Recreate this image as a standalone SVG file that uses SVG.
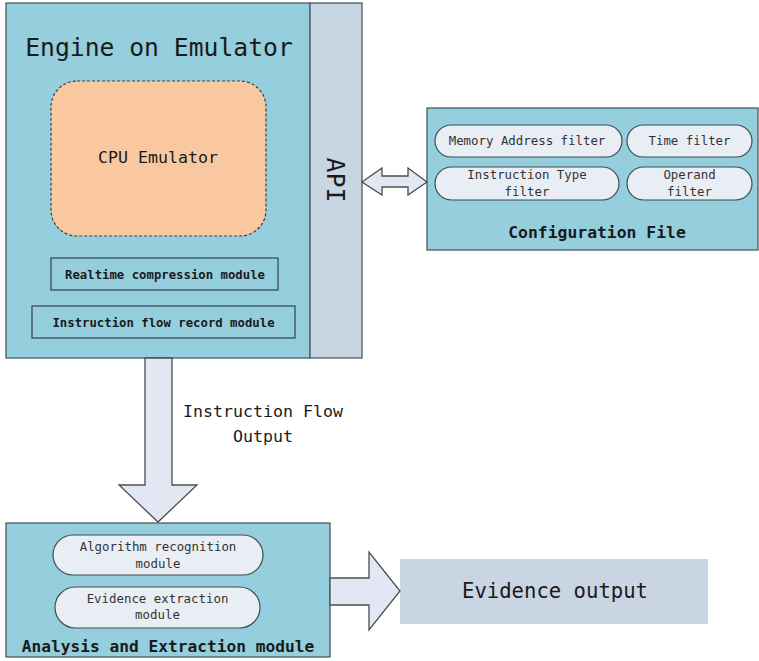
<svg xmlns="http://www.w3.org/2000/svg" width="759" height="661" viewBox="0 0 759 661">
<style>
text{font-family:"DejaVu Sans Mono","Liberation Mono",monospace;fill:#1a1a1a;text-anchor:middle}
.teal{fill:#95cedc;stroke:#4a5a62;stroke-width:1.3}
.mod{fill:none;stroke:#3d4c55;stroke-width:1.3}
.pill{fill:#e9edf4;stroke:#3d4c55;stroke-width:1.2}
.arrow{fill:#e2e8f3;stroke:#4d4d4d;stroke-width:1.3;stroke-linejoin:miter}
.small{font-size:12.4px;fill:#333}
.bold{font-weight:bold}
</style>
<rect width="759" height="661" fill="#ffffff"/>
<g id="engine">
<rect class="teal" x="6" y="3" width="304" height="355"/>
<text x="159" y="56" style="font-size:24.7px">Engine on Emulator</text>
</g>
<g id="api">
<rect x="310" y="3" width="52" height="355" fill="#c8d5e3" stroke="#4a5a62" stroke-width="1.3"/>
<text transform="translate(336,180) rotate(90)" y="9" style="font-size:25px">API</text>
</g>
<g id="cpu">
<rect x="51" y="81" width="215" height="155" rx="26" fill="#f9c8a0" stroke="#404040" stroke-width="1.2" stroke-dasharray="3,2"/>
<text x="158" y="163" style="font-size:16.6px">CPU Emulator</text>
</g>
<g id="compression">
<rect class="mod" x="51" y="258" width="227" height="32"/>
<text class="bold" x="165" y="279" style="font-size:12.3px">Realtime compression module</text>
</g>
<g id="record">
<rect class="mod" x="32" y="306" width="263" height="32"/>
<text class="bold" x="163.5" y="327" style="font-size:12.3px">Instruction flow record module</text>
</g>
<g id="config">
<rect class="teal" x="427" y="108" width="331" height="142"/>
<text class="bold" x="597" y="238" style="font-size:16.4px">Configuration File</text>
</g>
<g id="memfilter">
<rect class="pill" x="435" y="125" width="187" height="32" rx="16"/>
<text class="small" x="527" y="145">Memory Address filter</text>
</g>
<g id="timefilter">
<rect class="pill" x="627" y="125" width="125" height="32" rx="16"/>
<text class="small" x="689.5" y="145">Time filter</text>
</g>
<g id="typefilter">
<rect class="pill" x="435" y="167" width="184" height="33" rx="16.5"/>
<text class="small" x="527" y="179">Instruction Type</text>
<text class="small" x="527" y="196">filter</text>
</g>
<g id="operandfilter">
<rect class="pill" x="627" y="167" width="125" height="33" rx="16.5"/>
<text class="small" x="689.5" y="179">Operand</text>
<text class="small" x="689.5" y="196">filter</text>
</g>
<g id="analysis">
<rect class="teal" x="6" y="523" width="324" height="134"/>
<text class="bold" x="168" y="652" style="font-size:16.2px">Analysis and Extraction module</text>
</g>
<g id="algo">
<rect class="pill" x="53" y="535" width="210" height="40" rx="20"/>
<text class="small" x="158" y="551">Algorithm recognition</text>
<text class="small" x="158" y="568">module</text>
</g>
<g id="evidence">
<rect class="pill" x="55" y="587" width="205" height="41" rx="20.5"/>
<text class="small" x="157.5" y="603">Evidence extraction</text>
<text class="small" x="157.5" y="619">module</text>
</g>
<g id="evidenceout">
<rect x="400" y="559" width="308" height="65" fill="#c9d5e3"/>
<text x="555" y="598" style="font-size:20.6px">Evidence output</text>
</g>
<g id="connectors">
<path class="arrow" d="M362,182 L382,168 L382,176 L408,176 L408,168 L427,182 L408,195 L408,187 L382,187 L382,195 Z"/>
<path class="arrow" d="M145,358 L172,358 L172,485 L197,485 L158,522 L119,485 L145,485 Z"/>
<path class="arrow" d="M330,578 L369,578 L369,552 L400,591 L369,630 L369,605 L330,605 Z"/>
<text x="263" y="417" style="font-size:16.6px">Instruction Flow</text>
<text x="263" y="442" style="font-size:16.6px">Output</text>
</g>
</svg>
